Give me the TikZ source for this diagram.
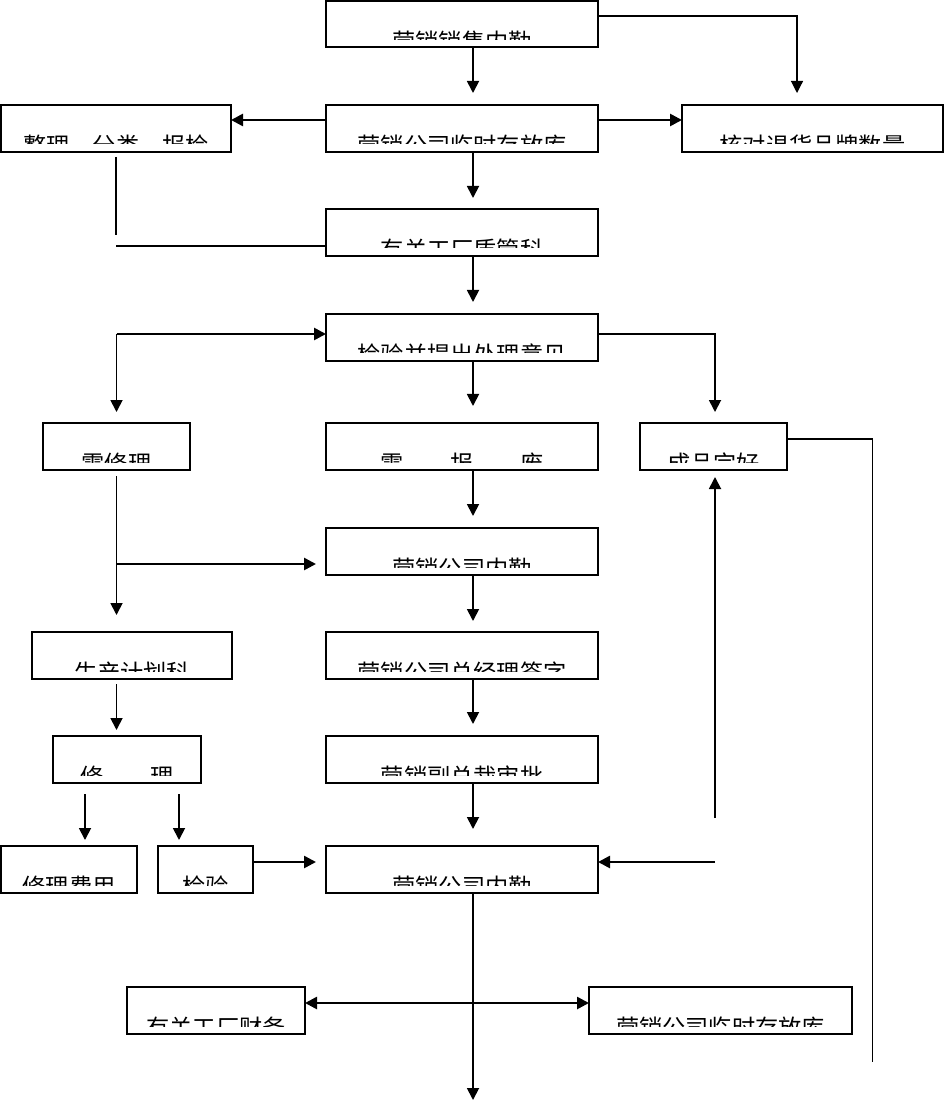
\documentclass[tikz,border=0pt]{standalone}
\usepackage{fontspec}
\newfontfamily\cjk{Noto Sans CJK SC}
\usetikzlibrary{arrows.meta}
\tikzset{
  box/.style={draw, line width=0.9pt, rectangle, inner sep=0pt, outer sep=0pt},
  txt/.style={inner sep=0pt, font=\cjk\fontsize{11.6pt}{12pt}\selectfont},
  arr/.style={line width=0.9pt, -{Triangle[length=6pt,width=6pt]}},
  arrT/.style={line width=1.3pt, -{Triangle[length=6pt,width=6pt]}},
  arrD/.style={line width=1.3pt, {Triangle[length=6pt,width=6pt]}-{Triangle[length=6pt,width=6pt]}},
  thinarr/.style={line width=0.6pt, -{Triangle[length=6pt,width=6pt]}},
  thinline/.style={line width=0.6pt},
}
\newcommand\bx[6]{%
  \node[box, minimum width={(#4-#2)*0.5pt}, minimum height={(#5-#3)*0.5pt}] (#1) at ({(#2+#4)/2},{(#3+#5)/2}) {};
  \begin{scope}
    \clip ({#2},{#3}) rectangle ({#4},{#3+39});
    \node[txt, anchor=base] at ({(#2+#4)/2},{#3+49.5}) {#6};
  \end{scope}
}
\begin{document}
\begin{tikzpicture}[x=0.5pt,y=-0.5pt]
\useasboundingbox (0,0) rectangle (944,1106);
\fill[white] (0,0) rectangle (944,1106);

\bx{b1}{326}{1}{598}{47}{营销销售内勤}
\bx{b2}{1}{105}{231}{152}{整理　分类　报检}
\bx{b3}{326}{105}{598}{152}{营销公司临时存放库}
\bx{b4}{682}{105}{943}{152}{核对退货品牌数量}
\bx{b5}{326}{209}{598}{256}{有关工厂质管科}
\bx{b6}{326}{314}{598}{361}{检验并提出处理意见}
\bx{b7}{43}{423}{190}{470}{需修理}
\bx{b8}{326}{423}{598}{470}{需　　报　　废}
\bx{b9}{640}{423}{787}{470}{成品完好}
\bx{b10}{326}{528}{598}{575}{营销公司内勤}
\bx{b11}{32}{632}{232}{679}{生产计划科}
\bx{b12}{326}{632}{598}{679}{营销公司总经理签字}
\bx{b13}{53}{736}{201}{783}{修　　理}
\bx{b14}{326}{736}{598}{783}{营销副总裁审批}
\bx{b15}{1}{846}{137}{893}{修理费用}
\bx{b16}{158}{846}{253}{893}{检验}
\bx{b17}{326}{846}{598}{893}{营销公司内勤}
\bx{b18}{127}{987}{305}{1034}{有关工厂财务}
\bx{b19}{589}{987}{852}{1034}{营销公司临时存放库}

\coordinate (cx) at (473,0);
\coordinate (j1) at (116.5,334);
\coordinate (j2) at (116.5,564);
\coordinate (u1) at (715,818);
\coordinate (u2) at (715,862);
\coordinate (e1) at (872.6,1062);
\coordinate (eB) at (473,1100);
\coordinate (r1) at (797,16);

% central column
\draw[arr, shorten >=6pt] (b1.south -| cx) -- (b3.north -| cx);
\draw[arr, shorten >=5.5pt] (b3.south -| cx) -- (b5.north -| cx);
\draw[arr, shorten >=6pt] (b5.south -| cx) -- (b6.north -| cx);
\draw[arr, shorten >=8.5pt] (b6.south -| cx) -- (b8.north -| cx);
\draw[arr, shorten >=6pt] (b8.south -| cx) -- (b10.north -| cx);
\draw[arr, shorten >=5.5pt] (b10.south -| cx) -- (b12.north -| cx);
\draw[arr, shorten >=6pt] (b12.south -| cx) -- (b14.north -| cx);
\draw[arr, shorten >=8.5pt] (b14.south -| cx) -- (b17.north -| cx);
\draw[arr] (b17.south -| cx) -- (eB);

% top
\draw[thinarr, shorten >=6pt] (b1.east |- r1) -| (b4.north -| r1);
\draw[arrT] (b3.west |- 0,120) -- (b2.east |- 0,120);
\draw[arrT] (b3.east |- 0,120) -- (b4.west |- 0,120);
\draw[thinline, shorten <=2.5pt] (b2.south) -- (b2.south |- 0,235);
\draw[thinline] (b2.south |- 0,246) -- (b5.west |- 0,246);

% inspection branches
\draw[arrT] (j1) -- (b6.west |- j1);
\draw[arr, shorten >=5.5pt] (j1) -- (b7.north);
\draw[arr, shorten >=5.5pt] (b6.east |- j1) -| (b9.north -| u1);
\draw[thinline] (b9.east |- 0,439) -| (e1);
\draw[arr, shorten >=3.5pt] (u1) -- (b9.south -| u1);
\draw[arrT] (u2) -- (b17.east |- u2);

% left column
\draw[arr, shorten <=3pt, shorten >=8.5pt] (b7.south) -- (b11.north -| b7.south);
\draw[arrT, shorten >=5pt] (j2) -- (b10.west |- j2);
\draw[arr, shorten <=2.5pt, shorten >=3pt] (b11.south -| j1) -- (b13.north -| j1);
\draw[arr, shorten <=5.5pt, shorten >=3pt] (b13.south -| 85,0) -- (b15.north -| 85,0);
\draw[arr, shorten <=5.5pt, shorten >=3pt] (b13.south -| 179,0) -- (b16.north -| 179,0);
\draw[arrT, shorten >=5pt] (b16.east |- u2) -- (b17.west |- u2);

% bottom
\draw[arrD] (b18.east |- 0,1003) -- (b19.west |- 0,1003);
\end{tikzpicture}
\end{document}
